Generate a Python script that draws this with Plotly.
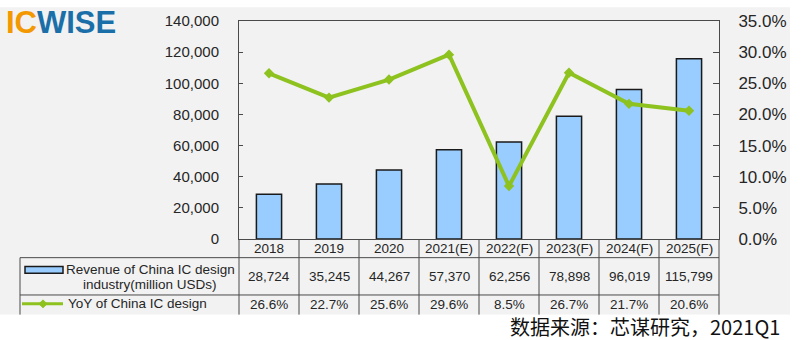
import plotly.graph_objects as go

# ---- data ----
years = ["2018", "2019", "2020", "2021(E)", "2022(F)", "2023(F)", "2024(F)", "2025(F)"]
revenue = [28724, 35245, 44267, 57370, 62256, 78898, 96019, 115799]
yoy_pct = [26.6, 22.7, 25.6, 29.6, 8.5, 26.7, 21.7, 20.6]
left_ticks = [0, 20000, 40000, 60000, 80000, 100000, 120000, 140000]
right_ticks = [0, 0.05, 0.10, 0.15, 0.20, 0.25, 0.30, 0.35]
bar_name = ["Revenue of China IC design", "industry(million USDs)"]
line_name = "YoY of China IC design"
source = "数据来源：芯谋研究，2021Q1"

# ---- layout constants (pixels) ----
W, H = 803, 340
PL, PR, PT, PB = 239, 719, 17, 239  # plot area
def px2x(px):
    return (px - PL) / (PR - PL)
def px2y(py):
    return (PB - py) / (PB - PT)

BAR_FILL = "#99ccff"
BAR_EDGE = "#1a1a1a"
GREEN = "#8dc21f"
GRID = "#4a4a4a"
TXT = "#262626"

fig = go.Figure()
fig.add_bar(x=years, y=revenue, width=0.42,
            marker=dict(color=BAR_FILL, line=dict(color=BAR_EDGE, width=1.5)),
            hoverinfo="skip")
fig.add_scatter(x=years, y=[v / 100 for v in yoy_pct], yaxis="y2",
                mode="lines+markers",
                line=dict(color=GREEN, width=4),
                marker=dict(symbol="diamond", size=8, color=GREEN),
                hoverinfo="skip")

shapes = []
# gray background
shapes.append(dict(type="rect", xref="paper", yref="paper", layer="below",
                   x0=px2x(0), x1=px2x(790), y0=px2y(316), y1=px2y(3),
                   fillcolor="#f2f2f2", line=dict(width=0)))
def hline(py, x0, x1):
    shapes.append(dict(type="line", xref="paper", yref="paper",
                       x0=px2x(x0), x1=px2x(x1), y0=px2y(py), y1=px2y(py),
                       line=dict(color=GRID, width=1)))
def vline(px, y0, y1):
    shapes.append(dict(type="line", xref="paper", yref="paper",
                       x0=px2x(px), x1=px2x(px), y0=px2y(y0), y1=px2y(y1),
                       line=dict(color=GRID, width=1)))
hline(258, 20, PR)
hline(296, 20, PR)
ncol = len(years)
colw = (PR - PL) / ncol
for k in range(ncol + 1):
    vline(PL + colw * k, PB, 316)
vline(20, 258, 316)
# legend glyphs
shapes.append(dict(type="rect", xref="paper", yref="paper",
                   x0=px2x(25), x1=px2x(63), y0=px2y(274), y1=px2y(267),
                   fillcolor=BAR_FILL, line=dict(color=BAR_EDGE, width=1.5)))
shapes.append(dict(type="line", xref="paper", yref="paper",
                   x0=px2x(22), x1=px2x(63), y0=px2y(305), y1=px2y(305),
                   line=dict(color=GREEN, width=3)))
cx, cy = px2x(43), px2y(305)
dx, dy = 4 / (PR - PL), 4 / (PB - PT)
shapes.append(dict(type="path", xref="paper", yref="paper",
                   path=f"M {cx-dx},{cy} L {cx},{cy+dy} L {cx+dx},{cy} L {cx},{cy-dy} Z",
                   fillcolor=GREEN, line=dict(color=GREEN, width=1)))

ann = []
tf = dict(family="Liberation Sans, Arial", size=13.5, color=TXT)
for i, yr in enumerate(years):
    ann.append(dict(x=i, xref="x", y=px2y(248.5), yref="paper", text=yr,
                    showarrow=False, font=tf, yanchor="middle"))
    ann.append(dict(x=i, xref="x", y=px2y(277), yref="paper", text=f"{revenue[i]:,}",
                    showarrow=False, font=tf, yanchor="middle"))
    ann.append(dict(x=i, xref="x", y=px2y(306), yref="paper", text=f"{yoy_pct[i]:.1f}%",
                    showarrow=False, font=tf, yanchor="middle"))
ann.append(dict(x=px2x(150), xref="paper", y=px2y(270), yref="paper", text=bar_name[0],
                showarrow=False, font=tf, xanchor="center", yanchor="middle"))
ann.append(dict(x=px2x(150), xref="paper", y=px2y(285), yref="paper", text=bar_name[1],
                showarrow=False, font=tf, xanchor="center", yanchor="middle"))
ann.append(dict(x=px2x(66), xref="paper", y=px2y(305), yref="paper", text=line_name,
                showarrow=False, font=tf, xanchor="left", yanchor="middle"))
ann.append(dict(x=px2x(782), xref="paper", y=px2y(328), yref="paper", text=source,
                showarrow=False, xanchor="right", yanchor="middle",
                font=dict(family="Noto Sans CJK SC", size=20, color="#111111")))
ann.append(dict(x=px2x(4), xref="paper", y=px2y(19), yref="paper",
                text="<b><span style='color:#f39800'>IC</span><span style='color:#1b6fa8'>WISE</span></b>",
                showarrow=False, xanchor="left", yanchor="middle",
                font=dict(family="Liberation Sans, Arial", size=31)))

fig.update_layout(
    width=W, height=H,
    margin=dict(l=PL, r=W - PR, t=PT, b=H - PB, pad=0),
    paper_bgcolor="white", plot_bgcolor="rgba(0,0,0,0)",
    showlegend=False,
    font=dict(family="Liberation Sans, Arial", color=TXT),
    xaxis=dict(type="category", range=[-0.5, ncol - 0.5], showticklabels=False,
               showline=True, linecolor=GRID, linewidth=1, mirror=True,
               ticks="", showgrid=False, zeroline=False, fixedrange=True),
    yaxis=dict(range=[0, 140000], tickvals=left_ticks, tickformat=",",
               showline=True, linecolor=GRID, linewidth=1,
               ticks="inside", ticklen=4, tickcolor=GRID,
               showgrid=False, zeroline=False, ticklabelstandoff=16,
               tickfont=dict(size=15, color=TXT), fixedrange=True),
    yaxis2=dict(overlaying="y", side="right", range=[0, 0.35], tickvals=right_ticks,
                tickformat=".1%", showline=True, linecolor=GRID, linewidth=1,
                ticks="inside", ticklen=6, tickcolor=GRID, showgrid=False,
                zeroline=False, ticklabelstandoff=15,
                tickfont=dict(size=17, color=TXT), fixedrange=True),
    shapes=shapes, annotations=ann,
)
fig.write_html("out.html")
